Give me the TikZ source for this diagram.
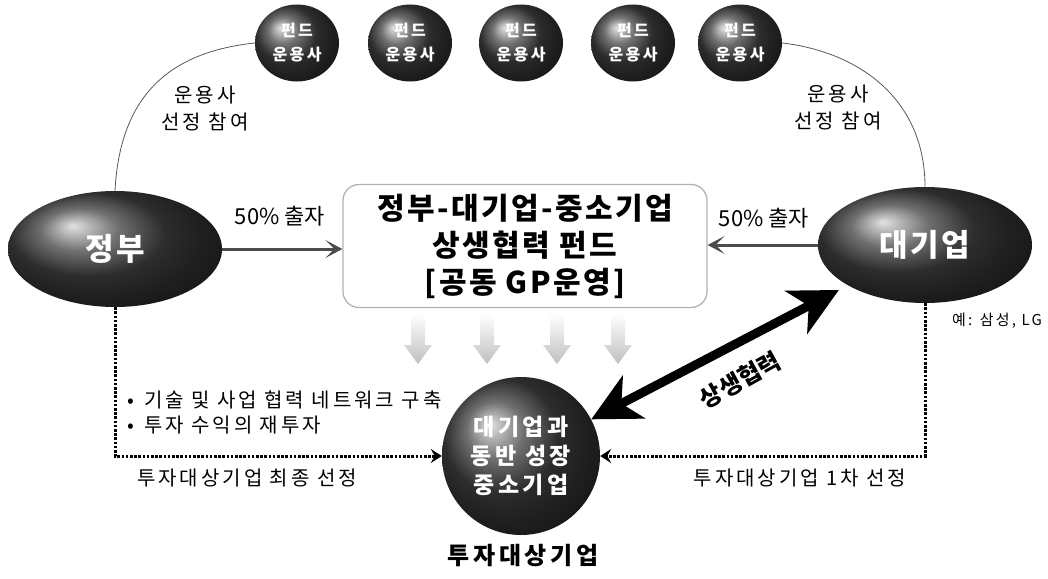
\documentclass[tikz,border=0pt]{standalone}
\usepackage{fontspec}
\setmainfont{Noto Sans CJK KR}
\newfontfamily\wide{Noto Sans CJK KR}[LetterSpace=15]
\newfontfamily\semiwide{Noto Sans CJK KR}[LetterSpace=8]
\usetikzlibrary{arrows.meta,shapes.geometric,calc}
\tikzset{
  sphere/.style={ellipse, shading=ball, ball color=black!75, text=white, inner sep=0pt, align=center},
  fundball/.style={sphere, minimum width=84pt, minimum height=77pt, font=\wide\fontsize{16}{24}\bfseries\selectfont},
  bigball/.style={sphere, minimum width=214pt, minimum height=116pt, font=\semiwide\fontsize{31}{31}\bfseries\selectfont},
  lbl/.style={font=\wide\fontsize{20}{27}\selectfont, align=center, inner sep=0pt},
  thin curve/.style={draw=gray!70!black, line width=0.8pt},
  capital/.style={draw=black!70, line width=3pt, -{Stealth[length=17pt,width=18pt,inset=9pt]}},
  dots/.style={line width=3pt, dash pattern=on 2.6pt off 1.6pt, -{Stealth[length=11pt,width=14pt,inset=4pt]}},
  coop/.style={line width=9pt, {Stealth[length=48pt,width=48pt,inset=14pt]}-{Stealth[length=48pt,width=48pt,inset=14pt]}}
}
\begin{document}
\begin{tikzpicture}[x=1pt,y=-1pt]
\useasboundingbox (0,0) rectangle (1048,578);
% fund manager balls
\node[fundball] (f1) at (297,43) {펀드\\운용사};
\node[fundball] (f2) at (410,43) {펀드\\운용사};
\node[fundball] (f3) at (521,43) {펀드\\운용사};
\node[fundball] (f4) at (633,43) {펀드\\운용사};
\node[fundball] (f5) at (740,43) {펀드\\운용사};
% main actors
\node[bigball] (gov) at (115,249) {정부};
\node[bigball] (big) at (925,245) {대기업};
\node[draw=gray!60, line width=1.3pt, rounded corners=16pt, minimum width=364pt, minimum height=123pt,
      font=\semiwide\fontsize{30}{37}\bfseries\selectfont, align=center, inner sep=0pt] (fund) at (525,246)
  {정부-대기업-중소기업\\상생협력 펀드\\{[}공동 GP운영{]}};
\node[sphere, circle, minimum size=158pt, font=\wide\fontsize{23}{29}\bfseries\selectfont] (sme) at (521,456)
  {대기업과\\동반 성장\\중소기업};
% curves to fund managers
\draw[thin curve] (gov.north) .. controls (120,95) and (170,52) .. (f1.west);
\draw[thin curve] (f5.east) .. controls (860,52) and (925,100) .. (big.north);
\node[lbl] (l1) at (205,109) {운용사\\선정 참여};
\node[lbl] (l2) at (838,108) {운용사\\선정 참여};
% capital arrows
\draw[capital] (gov.east) -- (gov.east -| fund.west);
\draw[capital] (big.west) -- (big.west -| fund.east);
\node[font=\fontsize{22}{22}\selectfont, inner sep=0pt] (c1) at (280,216) {50\% 출자};
\node[font=\fontsize{22}{22}\selectfont, inner sep=0pt] (c2) at (764,218) {50\% 출자};
% gray down arrows
\foreach \cx in {418,487,557,618}{
  \shade[top color=white, bottom color=gray!50]
    (\cx-7,314) -- (\cx+7,314) -- (\cx+7,345) -- (\cx+14,345) -- (\cx,364) -- (\cx-14,345) -- (\cx-7,345) -- cycle;
}
% dotted selection lines
\draw[dots] (gov.south) |- (sme.west);
\draw[dots] (big.south) |- (sme.east);
\node[lbl, anchor=west, align=left, font=\wide\fontsize{20}{25}\selectfont] (bul) at (127,412)
  {•\hspace{0.5em}기술 및 사업 협력 네트워크 구축\\•\hspace{0.5em}투자 수익의 재투자};
\node[lbl] (s1) at (247,478) {투자대상기업 최종 선정};
\node[lbl] (s2) at (800,478) {투자대상기업 1차 선정};
\node[font=\wide\fontsize{15}{15}\selectfont, inner sep=0pt] (ex) at (997,321) {예: 삼성, LG};
% cooperation arrow
\draw[coop, shorten >=10pt] (sme) -- (big);
\node[font=\fontsize{24}{24}\bfseries\selectfont, rotate=29, inner sep=0pt] (co) at (740,380) {상생협력};
% caption
\node[font=\wide\fontsize{24}{24}\bfseries\selectfont, inner sep=0pt] (cap) at (523,556) {투자대상기업};
\end{tikzpicture}
\end{document}
